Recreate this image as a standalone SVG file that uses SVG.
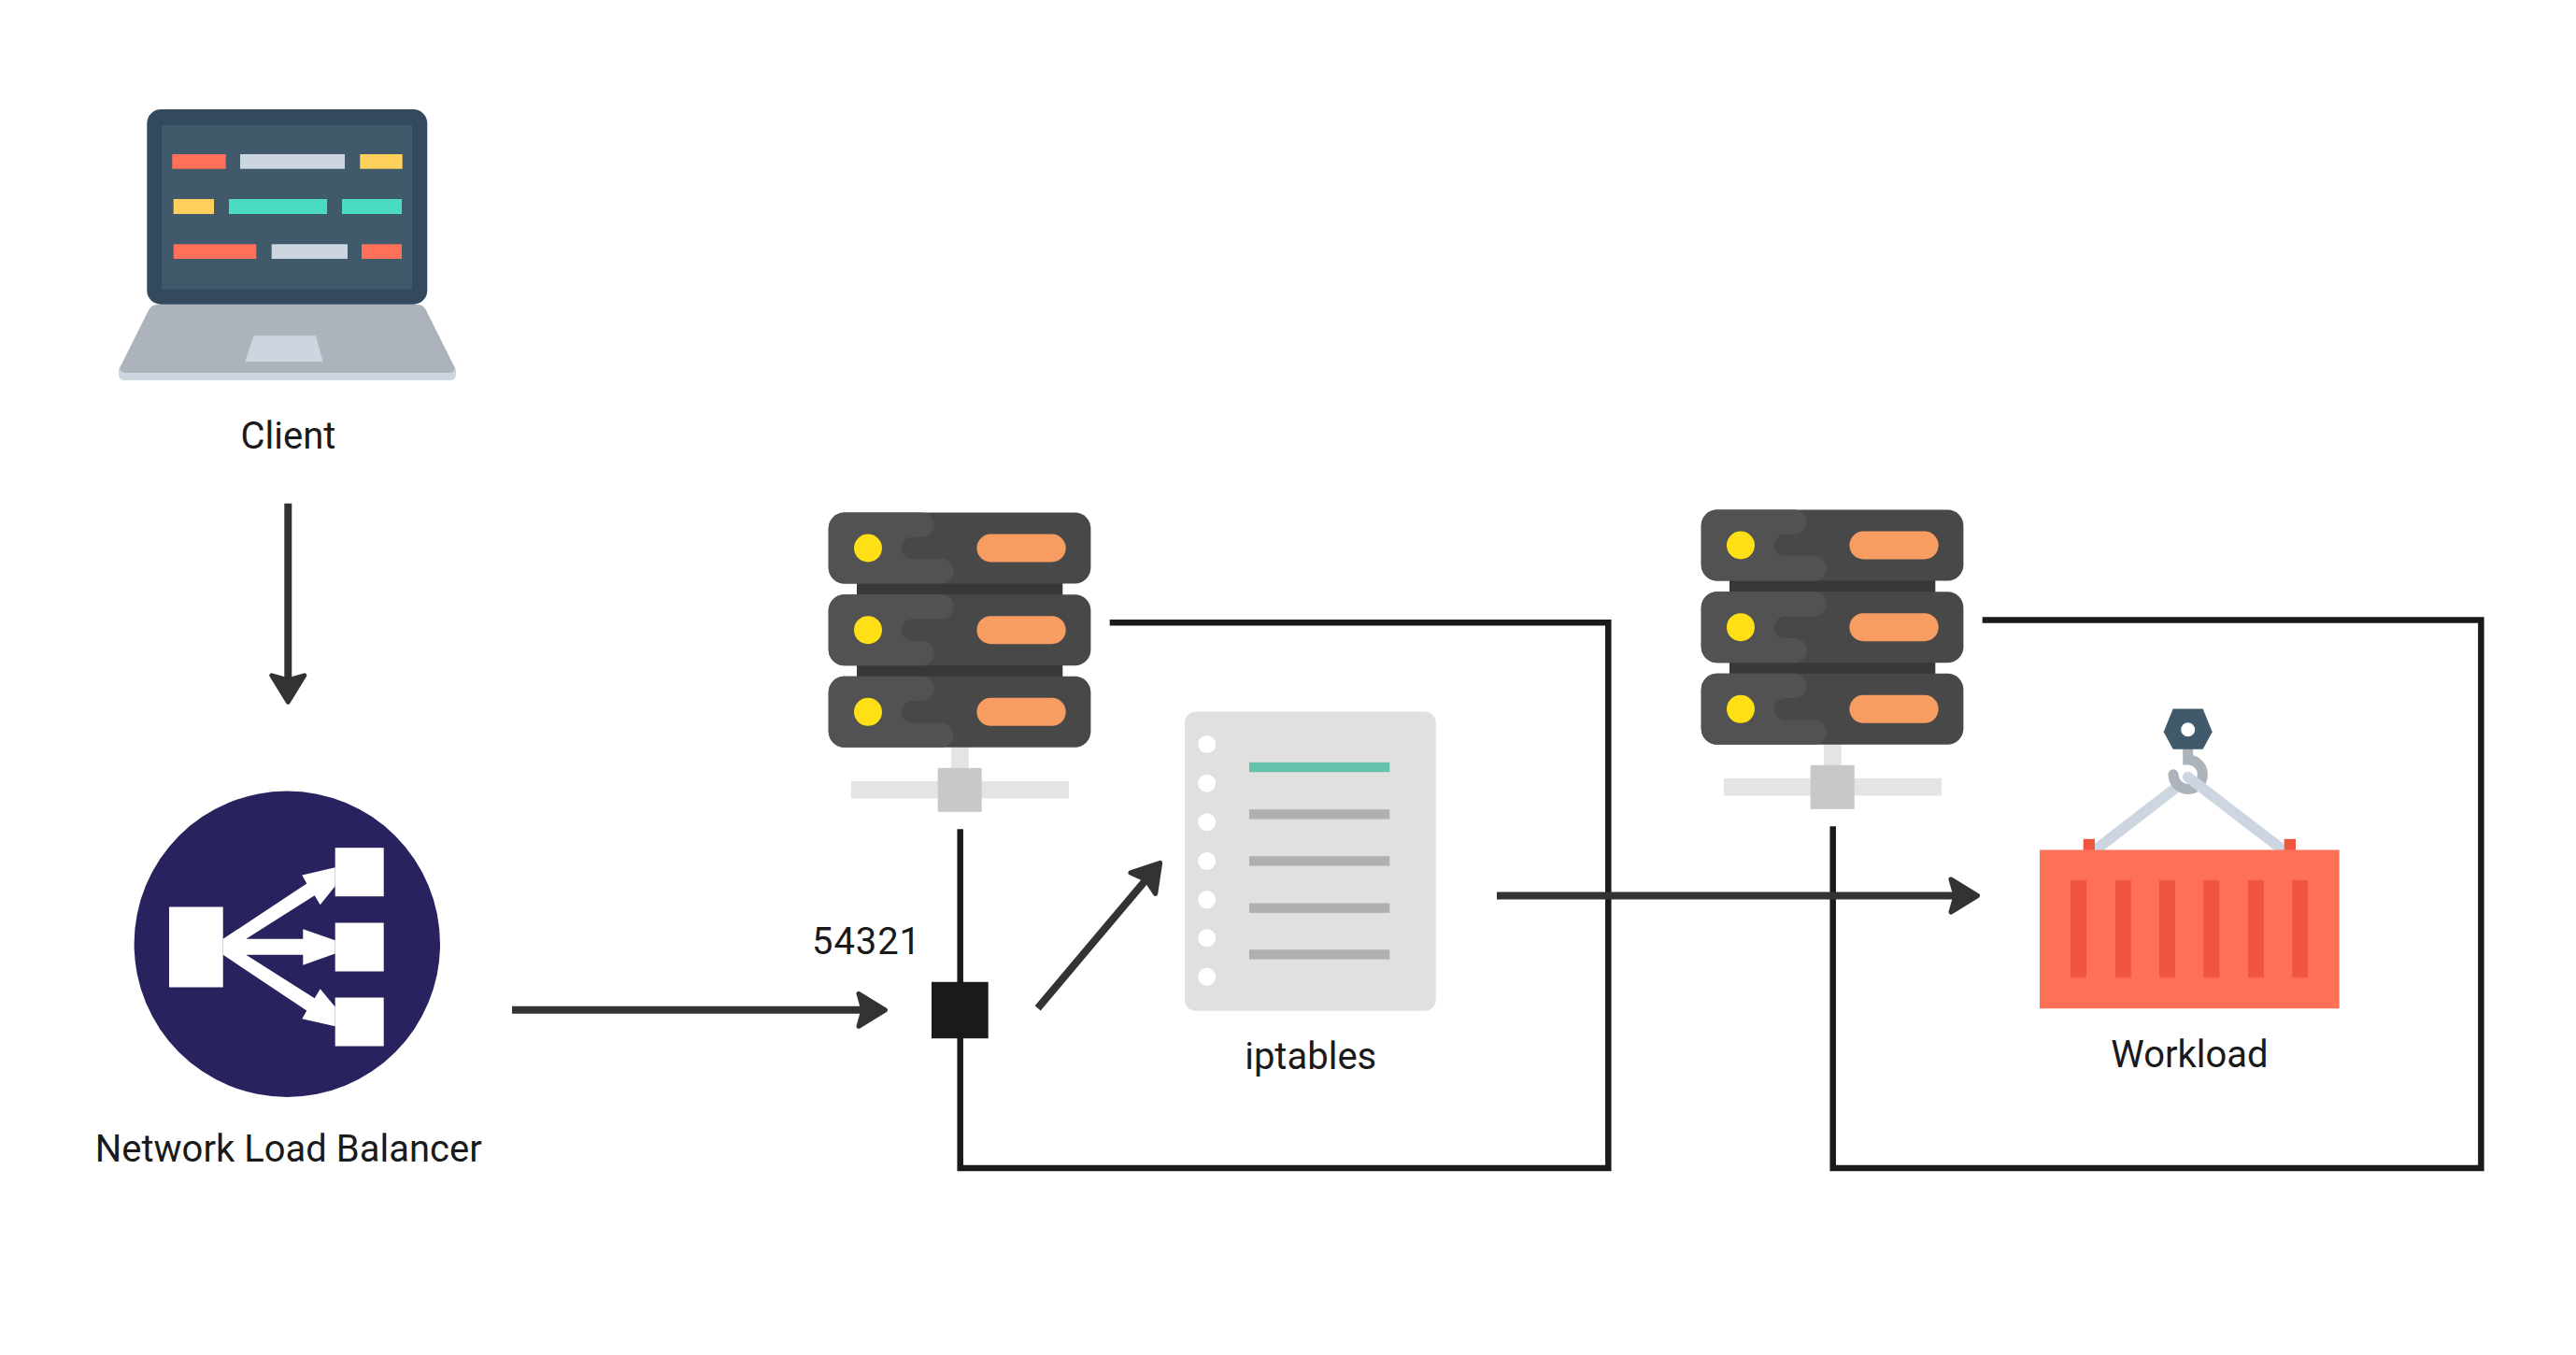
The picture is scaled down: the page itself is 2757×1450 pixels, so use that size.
<svg xmlns="http://www.w3.org/2000/svg" width="2757" height="1450" viewBox="0 0 2757 1450">
<style>
.label{font-family:Roboto,"Liberation Sans",sans-serif;font-size:40px;fill:#1a1a1a;text-anchor:middle}
.loop{fill:none;stroke:#1a1a1a;stroke-width:6.5;stroke-linejoin:miter}
.arrow{fill:none;stroke:#333;stroke-width:8;marker-end:url(#head)}
.red{fill:#ff7058}.gray{fill:#cdd6e0}.yel{fill:#ffd15c}.teal{fill:#4cdbc4}
.srow{fill:#484848}.sblob{fill:#525252}.sdot{fill:#ffe016}.spill{fill:#f89d62}
.hole{fill:#fff}.rule{fill:#aeb1af}.stripe{fill:#f1543f}
</style>
<defs>
<marker id="head" markerUnits="userSpaceOnUse" markerWidth="44" markerHeight="50" viewBox="-40 -25 44 50" refX="-20" refY="0" orient="auto">
<path d="M-31,-17.5 L-2.5,0 L-31,17.5 L-26,0 Z" fill="#333" stroke="#333" stroke-width="5" stroke-linejoin="round"/>
</marker>
<path id="blob" class="sblob" d="M17,0 H101 A13.2,13.2 0 0 1 101,26.3 H90 A11.7,11.7 0 0 0 90,49.7 H122 A13.2,13.2 0 0 1 122,76 H17 A17,17 0 0 1 0,59 V17 A17,17 0 0 1 17,0Z"/>
<g id="server">
<rect x="131.3" y="250" width="18.7" height="24" fill="#e4e4e4"/>
<rect x="24.3" y="287.3" width="233" height="18.7" fill="#e4e4e4"/>
<rect x="117" y="273.3" width="47" height="47" fill="#c8c8c8"/>
<rect x="30.3" y="70" width="220.3" height="110" fill="#383838"/>
<rect class="srow" width="280.7" height="76" rx="17"/>
<rect class="srow" y="87.7" width="280.7" height="76" rx="17"/>
<rect class="srow" y="175.3" width="280.7" height="76" rx="17"/>
<use href="#blob"/>
<use href="#blob" transform="translate(0,163.7) scale(1,-1)"/>
<use href="#blob" transform="translate(0,175.3)"/>
<circle class="sdot" cx="42.3" cy="38" r="15"/>
<circle class="sdot" cx="42.3" cy="125.7" r="15"/>
<circle class="sdot" cx="42.3" cy="213.3" r="15"/>
<rect class="spill" x="158.7" y="23" width="95.3" height="30" rx="15"/>
<rect class="spill" x="158.7" y="110.7" width="95.3" height="30" rx="15"/>
<rect class="spill" x="158.7" y="198.3" width="95.3" height="30" rx="15"/>
</g>
</defs>
<rect width="2757" height="1450" fill="#fff"/>
<g id="connectors" transform="translate(0,1.5)">
<path class="loop" d="M1187.7,664.7 H1721.3 V1248.5 H1027.7 V885.7"/>
<path class="loop" d="M2121.7,662 H2655.4 V1248.5 H1961.7 V882.7"/>
<path class="arrow" d="M308.3,537.3 V732.3"/>
<path class="arrow" d="M548,1079.3 H930"/>
<path class="arrow" d="M1110.7,1077.3 L1230.4,935.3"/>
<path class="arrow" d="M1602,957 H2099"/>
</g>
<g id="client">
<rect class="gray" x="127" y="390" width="361" height="17" rx="6"/>
<path fill="#acb3ba" d="M170,325.7 H446 Q453,325.7 456,332 L485.5,391 Q489,399 480,399 H135 Q126,399 129.5,391 L159,332 Q162,325.7 170,325.7Z"/>
<path class="gray" d="M271.3,359.3 H338 L345.7,387 H262.3Z"/>
<rect x="157.3" y="117" width="300" height="208.7" rx="15" fill="#334a5e"/>
<rect x="173" y="133.7" width="268" height="176" fill="#40596b"/>
<rect class="red" x="184.3" y="165" width="57.4" height="15.7"/>
<rect class="gray" x="257" y="165" width="112" height="15.7"/>
<rect class="yel" x="385.3" y="165" width="45.4" height="15.7"/>
<rect class="yel" x="185.7" y="213" width="43.3" height="16"/>
<rect class="teal" x="245" y="213" width="105" height="16"/>
<rect class="teal" x="366" y="213" width="64" height="16"/>
<rect class="red" x="185.7" y="261.3" width="88.6" height="15.7"/>
<rect class="gray" x="290.7" y="261.3" width="81.3" height="15.7"/>
<rect class="red" x="387" y="261.3" width="43" height="15.7"/>
<text class="label" x="308.5" y="479.7">Client</text>
</g>
<g id="nlb" transform="translate(0,1.5)">
<circle cx="307.3" cy="1008.7" r="163.7" fill="#28235f"/>
<g fill="#fff">
<rect x="181" y="969" width="57.7" height="86"/>
<rect x="358.7" y="905.7" width="52" height="52"/>
<rect x="358.7" y="986" width="52" height="52"/>
<rect x="358.7" y="1066" width="52" height="52"/>
<path d="M238.7,1003.3 L328.3,944 L323.3,935 L358.7,926.7 V946.7 L342.7,966.7 L336.7,956.7 L263.3,1003.3 H324.3 V992.7 L358.7,1004.7 V1019 L324.3,1031.3 V1020.3 H263.3 L336.7,1066.7 L342.7,1056.7 L358.7,1076 V1096.7 L323.3,1088.7 L328.3,1080 L238.7,1020.3Z"/>
</g>
<text class="label" x="308.7" y="1241">Network Load Balancer</text>
</g>
<g id="server-1" transform="translate(886.7,548.5)"><use href="#server"/></g>
<g id="server-2" transform="translate(1820.7,545.5)"><use href="#server"/></g>
<g id="port" transform="translate(0,1.5)">
<rect x="997" y="1049.3" width="60.7" height="60.4" fill="#1a1a1a"/>
<text class="label" x="927.5" y="1019.5" letter-spacing="0.9">54321</text>
</g>
<g id="iptables" transform="translate(0,1.5)">
<rect x="1268" y="760" width="268.7" height="320.3" rx="12" fill="#e0e0df"/>
<circle class="hole" cx="1291.7" cy="795" r="9.5"/>
<circle class="hole" cx="1291.7" cy="836.7" r="9.5"/>
<circle class="hole" cx="1291.7" cy="878.3" r="9.5"/>
<circle class="hole" cx="1291.7" cy="920" r="9.5"/>
<circle class="hole" cx="1291.7" cy="961.3" r="9.5"/>
<circle class="hole" cx="1291.7" cy="1002.3" r="9.5"/>
<circle class="hole" cx="1291.7" cy="1043.7" r="9.5"/>
<rect x="1337" y="814.3" width="150.3" height="10.4" fill="#64c4ab"/>
<rect class="rule" x="1337" y="864.7" width="150.3" height="10.4"/>
<rect class="rule" x="1337" y="914.7" width="150.3" height="10.4"/>
<rect class="rule" x="1337" y="965" width="150.3" height="10.4"/>
<rect class="rule" x="1337" y="1014.7" width="150.3" height="10.4"/>
<text class="label" x="1402.7" y="1142.5">iptables</text>
</g>
<g id="workload" transform="translate(0,1.5)">
<path fill="none" stroke="#cdd6e0" stroke-width="11.5" d="M2336,836 L2240,910"/>
<path fill="none" stroke="#acb3ba" stroke-width="11" stroke-linecap="round" d="M2341.7,800 V811.5 A15.7,15.7 0 1 1 2326,827.3"/>
<path fill="none" stroke="#cdd6e0" stroke-width="11.5" stroke-linecap="round" d="M2341.7,830 L2442,907"/>
<path fill="#40596b" d="M2325.7,757 H2357.7 L2367.7,781.7 L2357.7,800.3 H2325.7 L2315.7,781.7Z"/>
<circle class="hole" cx="2341.7" cy="779.3" r="7.5"/>
<rect class="stripe" x="2229.7" y="896.3" width="12.3" height="14"/>
<rect class="stripe" x="2444.7" y="896.3" width="12.3" height="14"/>
<rect class="red" x="2183" y="908" width="320.7" height="169.7"/>
<rect class="stripe" x="2216" y="940.3" width="17" height="104.4"/>
<rect class="stripe" x="2264" y="940.3" width="16.7" height="104.4"/>
<rect class="stripe" x="2311" y="940.3" width="17" height="104.4"/>
<rect class="stripe" x="2358.3" y="940.3" width="17" height="104.4"/>
<rect class="stripe" x="2406" y="940.3" width="17" height="104.4"/>
<rect class="stripe" x="2453.3" y="940.3" width="16.7" height="104.4"/>
<text class="label" x="2343.5" y="1140">Workload</text>
</g>
</svg>
